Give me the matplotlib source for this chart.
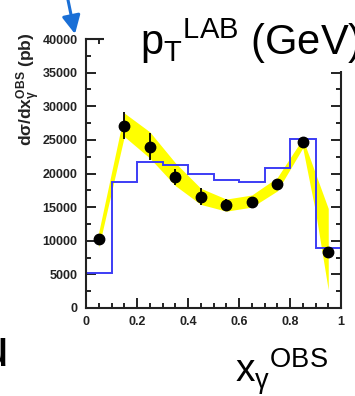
import numpy as np
import matplotlib
matplotlib.use('Agg')
import matplotlib.pyplot as plt
from matplotlib.patches import Rectangle, FancyArrowPatch

plt.rcParams['font.family'] = ['Liberation Sans', 'DejaVu Sans']
plt.rcParams['mathtext.fontset'] = 'custom'
plt.rcParams['mathtext.rm'] = 'Liberation Sans'
plt.rcParams['mathtext.it'] = 'Liberation Sans:italic'
plt.rcParams['mathtext.bf'] = 'Liberation Sans:bold'

# data
bin_edges = [0.0, 0.1, 0.2, 0.3, 0.4, 0.5, 0.6, 0.7, 0.8, 0.9, 1.0]
mc_values = [5200, 18800, 21750, 21300, 20000, 19100, 18800, 20800, 25100, 8900]

data_x = [0.05, 0.15, 0.25, 0.35, 0.45, 0.55, 0.65, 0.75, 0.85, 0.95]
data_y = [10300, 27100, 24000, 19500, 16550, 15300, 15800, 18400, 24700, 8300]
data_err = [600, 2000, 2000, 1200, 1300, 900, 600, 600, 600, 700]

band_x = [0.05, 0.15, 0.25, 0.35, 0.45, 0.55, 0.65, 0.75, 0.85, 0.90, 0.95]
band_hi = [11300, 29000, 26200, 21600, 17800, 16200, 16800, 19400, 25200, 20000, 14800]
band_lo = [9000, 25500, 22300, 18200, 15400, 14400, 15000, 17400, 23800, 14300, 2700]

W, H = 355, 396
fig = plt.figure(figsize=(W / 100, H / 100), dpi=100)
ax = fig.add_axes([86 / W, 1 - 308 / H, 255 / W, 269 / H])

ax.fill_between(band_x, band_lo, band_hi, color='#ffff00', lw=0, zorder=1)
ax.stairs(mc_values, bin_edges, baseline=0, color='#3c3cf5', lw=1.4, zorder=2)
ax.errorbar(data_x, data_y, yerr=data_err, fmt='o', color='black', ms=7.5,
            elinewidth=1.3, capsize=0, zorder=3)

ax.set_xlim(0, 1)
ax.set_ylim(0, 40000)
ax.set_xticks([0, 0.2, 0.4, 0.6, 0.8, 1.0])
ax.set_xticklabels(['0', '0.2', '0.4', '0.6', '0.8', '1'])
ax.set_xticks(np.arange(0, 1.001, 0.05), minor=True)
ax.set_yticks(np.arange(0, 40001, 5000))
ax.set_yticks(np.arange(0, 40001, 2500), minor=True)
ax.tick_params(which='both', direction='in', top=True, right=True, width=1.4,
               labelsize=9, pad=6, colors='#222222')
ax.tick_params(which='major', length=7.5)
ax.tick_params(which='minor', length=3.8)
for lab in ax.get_xticklabels() + ax.get_yticklabels():
    lab.set_fontweight('bold')
for s in ax.spines.values():
    s.set_linewidth(1.5)
    s.set_color('#222222')

fig.text(29 / W, 1 - 33 / H, r'$\mathbf{d\sigma/dx_{\gamma}^{OBS}}$ (pb)',
         rotation=90, ha='center', va='top', fontsize=12.5, fontweight='bold',
         color='#222222')

# white box behind the slide title
fig.patches.append(Rectangle((104 / W, 1 - 71 / H), 1 - 104 / W, 71 / H,
                             transform=fig.transFigure, facecolor='white',
                             edgecolor='none', zorder=5))
fig.text(140 / W, 1 - 55 / H, r'$\mathregular{p_T{}^{LAB}}$ (GeV)', fontsize=30,
         ha='left', va='baseline', zorder=6)
fig.text(235 / W, 1 - 383 / H, r'$\mathregular{x_\gamma{}^{OBS}}$', fontsize=28,
         ha='left', va='baseline', zorder=6)
fig.text(9 / W, 1 - 365 / H, 'μ', fontsize=38, ha='right', va='baseline')

fig.patches.append(FancyArrowPatch((68 / W, 1.0), (75 / W, 1 - 34 / H),
                                   transform=fig.transFigure, shrinkA=0, shrinkB=0,
                                   arrowstyle='-|>,head_length=11,head_width=5.5',
                                   color='#1a6fd6', lw=2.2, zorder=6))

fig.savefig('out.png', dpi=100)
